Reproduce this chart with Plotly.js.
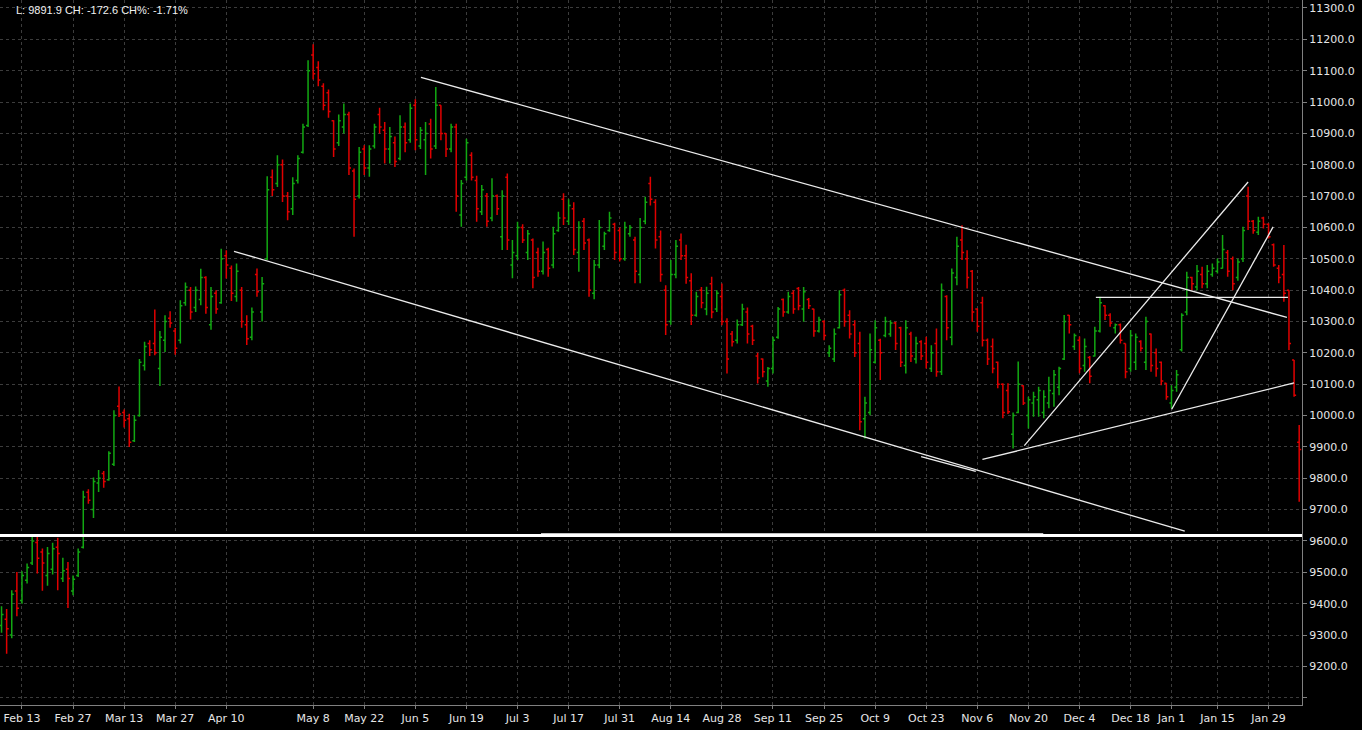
<!DOCTYPE html>
<html><head><meta charset="utf-8">
<script src="https://cdn.plot.ly/plotly-3.0.1.min.js"></script>
<style>html,body{margin:0;padding:0;background:#000;overflow:hidden}#chart{width:1362px;height:730px}</style>
</head><body><div id="chart"></div>
<script>
// Trading days (categories), by month
const tradingDays = {
  '2017-02': [7,8,9,10,13,14,15,16,17,20,21,22,23,24,27,28],
  '2017-03': [1,2,3,6,7,8,9,10,13,14,15,16,17,20,21,22,23,24,27,28,29,30,31],
  '2017-04': [3,4,5,6,7,10,11,12,13,18,19,20,21,24,25,26,27,28],
  '2017-05': [2,3,4,5,8,9,10,11,12,15,16,17,18,19,22,23,24,25,26,29,30,31],
  '2017-06': [1,2,5,6,7,8,9,12,13,14,15,16,19,20,21,22,23,26,27,28,29,30],
  '2017-07': [3,4,5,6,7,10,11,12,13,14,17,18,19,20,21,24,25,26,27,28,31],
  '2017-08': [1,2,3,4,7,8,9,10,11,14,15,16,17,18,21,22,23,24,25,28,29,30,31],
  '2017-09': [1,4,5,6,7,8,11,12,13,14,15,18,19,20,21,22,25,26,27,28,29],
  '2017-10': [2,3,4,5,6,9,10,11,12,13,16,17,18,19,20,23,24,25,26,27,30,31],
  '2017-11': [1,2,3,6,7,8,9,10,13,14,15,16,17,20,21,22,23,24,27,28,29,30],
  '2017-12': [1,4,5,6,7,8,11,12,13,14,15,18,19,20,21,22,27,28,29],
  '2018-01': [2,3,4,5,8,9,10,11,12,15,16,17,18,19,22,23,24,25,26,29,30,31],
  '2018-02': [1,2,5,6]
};

const openP = [
 9330,9350,9300,9440,9410,9475,9530,9595,9565,9490,
 9510,9580,9480,9510,9440,9490,9580,9755,9700,9785,
 9815,9795,9845,10030,10010,9990,9920,10000,10160,10230,
 10230,10150,10240,10310,10270,10240,10360,10400,10345,10370,
 10440,10290,10390,10360,10510,10470,10380,10400,10290,10250,
 10450,10330,10500,10760,10740,10800,10700,10660,10750,10840,
 10925,11150,11110,11050,11030,10940,10870,10920,10960,10780,
 10700,10850,10790,10860,10960,10910,10850,10870,10820,10920,
 10880,10990,10860,10880,10930,10860,10990,10900,10850,10920,
 10640,10760,10830,10750,10650,10700,10630,10700,10570,10760,
 10480,10510,10600,10520,10560,10520,10460,10530,10480,10590,
 10690,10620,10660,10520,10620,10560,10390,10480,10540,10590,
 10610,10590,10500,10580,10560,10450,10620,10740,10680,10570,
 10400,10300,10450,10560,10510,10430,10320,10400,10340,10420,
 10340,10380,10300,10260,10240,10290,10330,10285,10190,10180,
 10110,10150,10250,10370,10330,10390,10405,10340,10370,10340,
 10270,10300,10200,10180,10280,10400,10320,10290,10230,9990,
 10010,10170,10240,10255,10260,10295,10280,10160,10260,10180,
 10235,10230,10150,10230,10140,10380,10250,10440,10560,10500,
 10460,10340,10360,10240,10220,10170,10100,10080,9940,10010,
 10095,10000,10040,10050,10010,10040,10070,10090,10180,10320,
 10220,10240,10160,10185,10190,10270,10350,10320,10280,10290,
 10230,10150,10170,10236,10170,10260,10200,10170,10103,10040,
 10090,10210,10330,10440,10410,10450,10420,10450,10460,10470,
 10520,10500,10440,10500,10700,10620,10585,10630,10610,10545,
 10470,10450,10400,10177,9915];

const highP = [
 9392,9383,9443,9501,9503,9528,9613,9613,9576,9581,
 9594,9610,9546,9533,9490,9576,9760,9765,9802,9826,
 9823,9886,10017,10093,10019,10006,10001,10180,10235,10240,
 10338,10270,10320,10333,10279,10368,10424,10410,10412,10468,
 10444,10410,10400,10532,10527,10479,10485,10410,10320,10345,
 10469,10442,10763,10785,10830,10817,10713,10760,10830,10931,
 11133,11184,11130,11060,11040,10942,10960,10995,10969,10788,
 10857,10862,10862,10931,10982,10936,10920,10890,10958,10935,
 10995,11009,10920,10936,10947,11048,10990,10900,10931,10931,
 10751,10883,10840,10765,10735,10710,10757,10705,10719,10772,
 10560,10618,10610,10592,10565,10535,10555,10535,10602,10650,
 10709,10690,10680,10620,10630,10565,10496,10624,10586,10650,
 10615,10600,10618,10608,10570,10630,10698,10762,10690,10590,
 10416,10496,10560,10581,10545,10454,10395,10410,10411,10443,
 10400,10421,10310,10270,10306,10357,10345,10290,10200,10182,
 10155,10251,10346,10373,10395,10400,10410,10410,10375,10341,
 10315,10304,10224,10278,10400,10405,10336,10304,10267,10060,
 10262,10304,10245,10315,10304,10299,10283,10304,10267,10251,
 10240,10251,10224,10278,10421,10384,10469,10570,10607,10527,
 10464,10342,10379,10246,10246,10172,10103,10103,10010,10172,
 10097,10060,10076,10092,10081,10124,10145,10156,10321,10321,
 10262,10252,10246,10190,10283,10379,10352,10326,10294,10294,
 10230,10273,10262,10240,10315,10262,10214,10172,10103,10097,
 10145,10326,10459,10443,10480,10475,10480,10485,10501,10576,
 10528,10507,10500,10602,10730,10624,10634,10634,10613,10549,
 10480,10544,10400,10177,9970];

const lowP = [
 9307,9240,9290,9360,9400,9464,9523,9496,9441,9457,
 9493,9443,9469,9386,9427,9485,9576,9719,9673,9756,
 9770,9792,9839,9995,9962,9900,9916,9996,10144,10190,
 10192,10094,10203,10280,10194,10230,10350,10306,10330,10352,
 10325,10274,10325,10357,10437,10365,10363,10280,10225,10240,
 10379,10300,10496,10700,10729,10681,10623,10640,10740,10836,
 10920,11072,11050,10974,10950,10825,10860,10900,10767,10570,
 10692,10767,10762,10852,10900,10804,10804,10793,10814,10840,
 10870,10846,10850,10767,10820,10850,10878,10825,10840,10650,
 10602,10750,10750,10618,10640,10602,10620,10640,10528,10528,
 10438,10496,10550,10496,10406,10443,10450,10443,10470,10586,
 10608,10608,10512,10459,10528,10379,10371,10470,10528,10586,
 10496,10491,10494,10570,10422,10422,10610,10670,10533,10427,
 10257,10290,10438,10496,10420,10289,10315,10342,10320,10310,
 10330,10288,10134,10220,10230,10286,10230,10225,10102,10122,
 10092,10134,10245,10315,10325,10325,10336,10299,10340,10251,
 10265,10240,10187,10171,10278,10283,10246,10187,9953,9927,
 10001,10166,10113,10250,10251,10209,10155,10134,10171,10166,
 10177,10150,10139,10124,10129,10240,10224,10416,10496,10405,
 10299,10267,10220,10161,10135,10087,9991,10005,9895,10007,
 10034,9959,9996,9996,9991,10023,10028,10065,10177,10262,
 10209,10135,10140,10103,10188,10265,10305,10283,10262,10230,
 10119,10140,10145,10204,10145,10140,10124,10097,10050,10023,
 10076,10204,10320,10400,10400,10406,10406,10443,10453,10469,
 10443,10400,10430,10490,10592,10580,10576,10597,10565,10475,
 10422,10363,10209,10060,9725];

const closeP = [
 9365,9320,9430,9385,9490,9515,9600,9545,9530,9560,
 9575,9560,9505,9480,9478,9565,9740,9730,9790,9800,
 9790,9880,10000,10005,9985,9915,9985,10170,10220,10210,
 10200,10250,10300,10295,10215,10350,10410,10330,10400,10440,
 10345,10380,10340,10500,10480,10390,10460,10300,10245,10330,
 10395,10420,10720,10720,10800,10700,10650,10740,10820,10920,
 11100,11090,11070,10990,10970,10850,10940,10960,10790,10690,
 10840,10790,10850,10920,10920,10850,10890,10810,10920,10870,
 10980,10880,10910,10900,10850,10990,10900,10850,10920,10700,
 10740,10870,10760,10660,10720,10620,10700,10660,10700,10560,
 10520,10600,10560,10580,10440,10460,10520,10470,10580,10630,
 10630,10670,10530,10600,10550,10400,10480,10600,10580,10630,
 10520,10500,10600,10600,10460,10600,10680,10690,10560,10450,
 10290,10450,10540,10510,10440,10320,10380,10360,10390,10330,
 10390,10300,10180,10235,10290,10340,10260,10240,10120,10140,
 10150,10240,10340,10330,10380,10340,10350,10395,10350,10270,
 10305,10255,10215,10260,10385,10300,10260,10200,9980,10040,
 10210,10280,10200,10300,10295,10230,10170,10280,10190,10230,
 10190,10170,10200,10140,10400,10280,10455,10540,10520,10440,
 10330,10285,10240,10180,10150,10100,10010,10012,10000,10100,
 10040,10050,10060,10080,10060,10080,10130,10150,10300,10290,
 10255,10150,10220,10125,10270,10360,10320,10295,10290,10240,
 10140,10255,10250,10215,10300,10160,10150,10110,10060,10080,
 10130,10320,10440,10420,10460,10420,10460,10470,10490,10530,
 10460,10420,10490,10590,10620,10590,10620,10610,10570,10480,
 10440,10390,10230,10064.5,9891.9];

// x-axis labels
const tickDates  = ['2017-02-13','2017-02-27','2017-03-13','2017-03-27','2017-04-10','2017-05-08','2017-05-22','2017-06-05','2017-06-19','2017-07-03','2017-07-17','2017-07-31','2017-08-14','2017-08-28','2017-09-11','2017-09-25','2017-10-09','2017-10-23','2017-11-06','2017-11-20','2017-12-04','2017-12-18','2018-01-01','2018-01-15','2018-01-29'];
const tickLabels = ['Feb 13','Feb 27','Mar 13','Mar 27','Apr 10','May 8','May 22','Jun 5','Jun 19','Jul 3','Jul 17','Jul 31','Aug 14','Aug 28','Sep 11','Sep 25','Oct 9','Oct 23','Nov 6','Nov 20','Dec 4','Dec 18','Jan 1','Jan 15','Jan 29'];

// y-axis ticks
const yTickVals = [9100,9200,9300,9400,9500,9600,9700,9800,9900,10000,10100,10200,10300,10400,10500,10600,10700,10800,10900,11000,11100,11200,11300];
const yTickHidden = [9100];

// drawn trend lines: [barIndexStart, priceStart, barIndexEnd, priceEnd]
const trendLines = [
  [82.1, 11079, 251.6, 10313],
  [45.5, 10524, 231.6, 9631],
  [180.0, 9869, 190.7, 9822],
  [214.2, 10377, 251.8, 10377],
  [200.2, 9904, 244.0, 10745],
  [229.05, 10020, 248.9, 10602],
  [192.0, 9860, 253.0, 10104]
];
// thick support line(s): [barIndexStart, barIndexEnd, price]
const supportLines = [
  [-1, 256, 9617],
  [105.6, 203.9, 9620]
];

const infoText = 'L: 9891.9 CH: -172.6 CH%: -1.71%';

// build dates
const dates = [];
for (const ym of Object.keys(tradingDays)) {
  for (const d of tradingDays[ym]) dates.push(ym + '-' + String(d).padStart(2,'0'));
}
const xIdx = dates.map((_, i) => i);
const tickVals = tickDates.map(td => dates.findIndex(d => d >= td));

const trace = {
  type: 'ohlc',
  x: xIdx, open: openP, high: highP, low: lowP, close: closeP,
  increasing: {line: {color: '#12a812', width: 1.5}},
  decreasing: {line: {color: '#e00000', width: 1.5}},
  tickwidth: 0.4,
  hoverinfo: 'skip'
};

const shapes = [];
trendLines.forEach(t => shapes.push({type:'line', xref:'x', yref:'y', x0:t[0], y0:t[1], x1:t[2], y1:t[3], line:{color:'#ececec', width:1.3}}));
supportLines.forEach(s => shapes.push({type:'line', xref:'x', yref:'y', x0:s[0], y0:s[2], x1:s[1], y1:s[2], line:{color:'#ffffff', width:3}}));

const layout = {
  width: 1362, height: 730,
  paper_bgcolor: '#000', plot_bgcolor: '#000',
  margin: {l: 0, r: 60, t: 0, b: 25, pad: 0},
  showlegend: false,
  hovermode: false,
  font: {family: 'DejaVu Sans, sans-serif', size: 11, color: '#e6e6e6'},
  xaxis: {
    type: 'linear', range: [-0.3, 254.55], rangeslider: {visible: false},
    tickmode: 'array', tickvals: tickVals, ticktext: tickLabels,
    ticks: 'outside', ticklen: 3, tickcolor: '#808080',
    showgrid: true, gridcolor: '#3c3c3c', griddash: '3px,3px', gridwidth: 1,
    showline: true, linecolor: '#808080', linewidth: 1, zeroline: false,
    tickfont: {family: 'DejaVu Sans, sans-serif', size: 11, color: '#e6e6e6'}
  },
  yaxis: {
    side: 'right', range: [9076.7, 11325.5],
    tickmode: 'array', tickvals: yTickVals,
    ticktext: yTickVals.map(v => yTickHidden.includes(v) ? '' : v.toFixed(1)),
    ticks: 'outside', ticklen: 4, tickcolor: '#808080',
    showgrid: true, gridcolor: '#3c3c3c', griddash: '3px,3px', gridwidth: 1,
    showline: true, linecolor: '#808080', linewidth: 1, mirror: true, zeroline: false,
    tickfont: {family: 'DejaVu Sans, sans-serif', size: 11, color: '#e6e6e6'}
  },
  shapes: shapes,
  annotations: [{
    xref: 'paper', yref: 'paper', x: 14/1302, y: 1 - 10/705,
    xanchor: 'left', yanchor: 'middle', showarrow: false,
    text: infoText,
    font: {family: 'Liberation Sans, Arial, sans-serif', size: 11, color: '#f0f0f0'}
  }]
};

Plotly.newPlot('chart', [trace], layout, {staticPlot: true, displayModeBar: false});
</script>
</body></html>
